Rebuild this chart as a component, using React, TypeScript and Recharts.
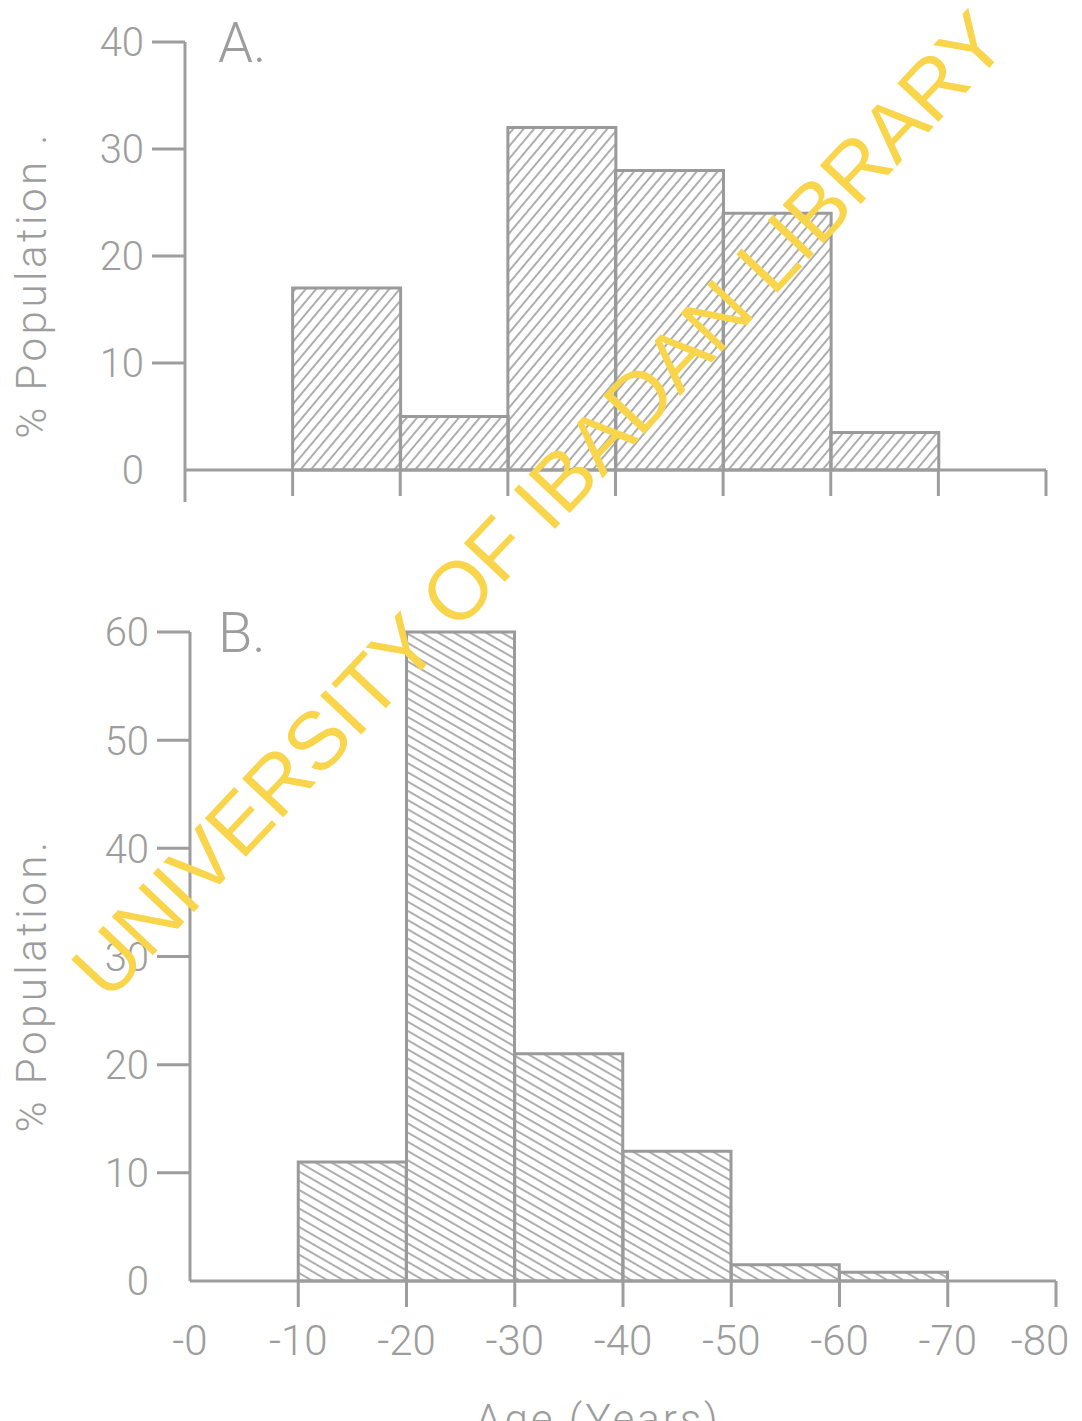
import { BarChart, Bar, XAxis, YAxis, Label } from "recharts";

// age classes (years) and % of population in each
const ageBins = ["0-10", "10-20", "20-30", "30-40", "40-50", "50-60", "60-70", "70-80"];
const binStart = [0, 10, 20, 30, 40, 50, 60, 70];
const populationA = [0, 17, 5, 32, 28, 24, 3.5, 0];
const populationB = [0, 11, 60, 21, 12, 1.5, 0.8, 0];

const ageTicks = [0, 10, 20, 30, 40, 50, 60, 70, 80];
const yTicksA = [0, 10, 20, 30, 40];
const yTicksB = [0, 10, 20, 30, 40, 50, 60];

const INK = "#9d9d9d";
const FONT = "Roboto, 'DejaVu Sans', sans-serif";

const dataA = ageBins.map((bin, i) => ({ bin, lo: binStart[i], value: populationA[i] }));
const dataB = ageBins.map((bin, i) => ({ bin, lo: binStart[i], value: populationB[i] }));

const Y_TICK = 33;
const Y_MARGIN = 8;
const X_TICK = 26;
const X_MARGIN = 16;

function PopTick(props: any) {
  const { x, y, payload } = props;
  return (
    <g>
      {payload.value !== 0 && (
        <line x1={x + Y_MARGIN} x2={x + Y_MARGIN + Y_TICK} y1={y} y2={y} stroke={INK} strokeWidth={3} />
      )}
      <text x={x} y={y} dy="0.36em" textAnchor="end" fontSize={40} fontWeight={300} fontFamily={FONT} fill={INK}>
        {payload.value}
      </text>
    </g>
  );
}

function AgeTick(props: any) {
  const { x, y, payload, showLabel, zeroTick } = props;
  const top = y - X_MARGIN - X_TICK;
  // keep the last label inside the page, as in the scan
  const tx = Math.min(x, 1040);
  return (
    <g>
      {(payload.value !== 0 || zeroTick) && (
        <line x1={x} x2={x} y1={top} y2={top + X_TICK + (payload.value === 0 ? 6 : 0)} stroke={INK} strokeWidth={3} />
      )}
      {showLabel && (
        <text x={tx} y={y} dy="0.75em" textAnchor="middle" fontSize={42} fontWeight={300} fontFamily={FONT} fill={INK}>
          {"-" + payload.value}
        </text>
      )}
    </g>
  );
}

function Histogram(props: any) {
  const { data, yMax, yTicks, hatchId, angle, panel, title, axisWidth, width, height, margin, showAgeLabels, zeroTick } = props;
  return (
    <BarChart width={width} height={height} data={data} margin={margin} barCategoryGap={0} barGap={0}>
      <defs>
        <pattern id={hatchId} patternUnits="userSpaceOnUse" width={8} height={8} patternTransform={`rotate(${angle})`}>
          <line x1={4} y1={0} x2={4} y2={8} stroke="#a0a0a0" strokeWidth={1.7} />
        </pattern>
      </defs>
      <XAxis xAxisId="cat" dataKey="bin" hide height={0} />
      <XAxis
        xAxisId="num"
        type="number"
        dataKey="lo"
        domain={[0, 80]}
        ticks={ageTicks}
        interval={0}
        height={showAgeLabels ? 80 : 60}
        axisLine={{ stroke: INK, strokeWidth: 3 }}
        tickLine={false}
        tickSize={X_TICK}
        tickMargin={X_MARGIN}
        tick={(p: any) => <AgeTick {...p} showLabel={showAgeLabels} zeroTick={zeroTick} />}
      >
        {showAgeLabels && (
          <Label
            content={({ viewBox }: any) => (
              <text
                x={viewBox.x + viewBox.width / 2 - 25}
                y={viewBox.y + 153}
                textAnchor="middle"
                fontSize={42}
                fontWeight={300}
                letterSpacing={3}
                fontFamily={FONT}
                fill={INK}
              >
                Age (Years)
              </text>
            )}
          />
        )}
      </XAxis>
      <YAxis
        type="number"
        domain={[0, yMax]}
        ticks={yTicks}
        interval={0}
        width={axisWidth}
        axisLine={{ stroke: INK, strokeWidth: 3 }}
        tickLine={false}
        tickSize={Y_TICK}
        tickMargin={Y_MARGIN}
        tick={(p: any) => <PopTick {...p} />}
      >
        <Label
          content={({ viewBox }: any) => {
            const cy = viewBox.y + viewBox.height / 2 + 29;
            return (
              <text
                x={46}
                y={cy}
                transform={`rotate(-90 46 ${cy})`}
                textAnchor="middle"
                fontSize={42}
                fontWeight={300}
                letterSpacing={3.5}
                fontFamily={FONT}
                fill={INK}
              >
                {title}
              </text>
            );
          }}
        />
      </YAxis>
      <Bar
        xAxisId="cat"
        dataKey="value"
        fill={`url(#${hatchId})`}
        stroke="#9a9a9a"
        strokeWidth={3}
        isAnimationActive={false}
      />
      <text x={218} y={margin.top + 20} fontSize={56} fontWeight={300} fontFamily={FONT} fill={INK}>
        {panel}
      </text>
    </BarChart>
  );
}

export default function App() {
  return (
    <div style={{ position: "relative", width: 1082, height: 1421, background: "#fff", overflow: "hidden" }}>
      <style>{"body{margin:0}"}</style>
      <div style={{ position: "absolute", left: 0, top: 0 }}>
        <Histogram
          data={dataA}
          yMax={40}
          yTicks={yTicksA}
          hatchId="hatchA"
          angle={40}
          panel="A."
          title="% Population ."
          axisWidth={185}
          width={1082}
          height={560}
          margin={{ top: 42, right: 36, left: 0, bottom: 30 }}
          showAgeLabels={false}
          zeroTick={true}
        />
      </div>
      <div style={{ position: "absolute", left: 0, top: 560 }}>
        <Histogram
          data={dataB}
          yMax={60}
          yTicks={yTicksB}
          hatchId="hatchB"
          angle={-60}
          panel="B."
          title="% Population."
          axisWidth={190}
          width={1082}
          height={861}
          margin={{ top: 72, right: 26, left: 0, bottom: 60 }}
          showAgeLabels={true}
          zeroTick={false}
        />
      </div>
      <svg width={1082} height={1421} style={{ position: "absolute", left: 0, top: 0, pointerEvents: "none" }}>
        <text
          x={108}
          y={1003}
          transform="rotate(-46.7 108 1003)"
          fontSize={82}
          fontFamily="'Liberation Sans', Arial, sans-serif"
          fill="#f9d54c"
          textLength={1316}
          lengthAdjust="spacing"
        >
          UNIVERSITY OF IBADAN LIBRARY
        </text>
      </svg>
    </div>
  );
}
